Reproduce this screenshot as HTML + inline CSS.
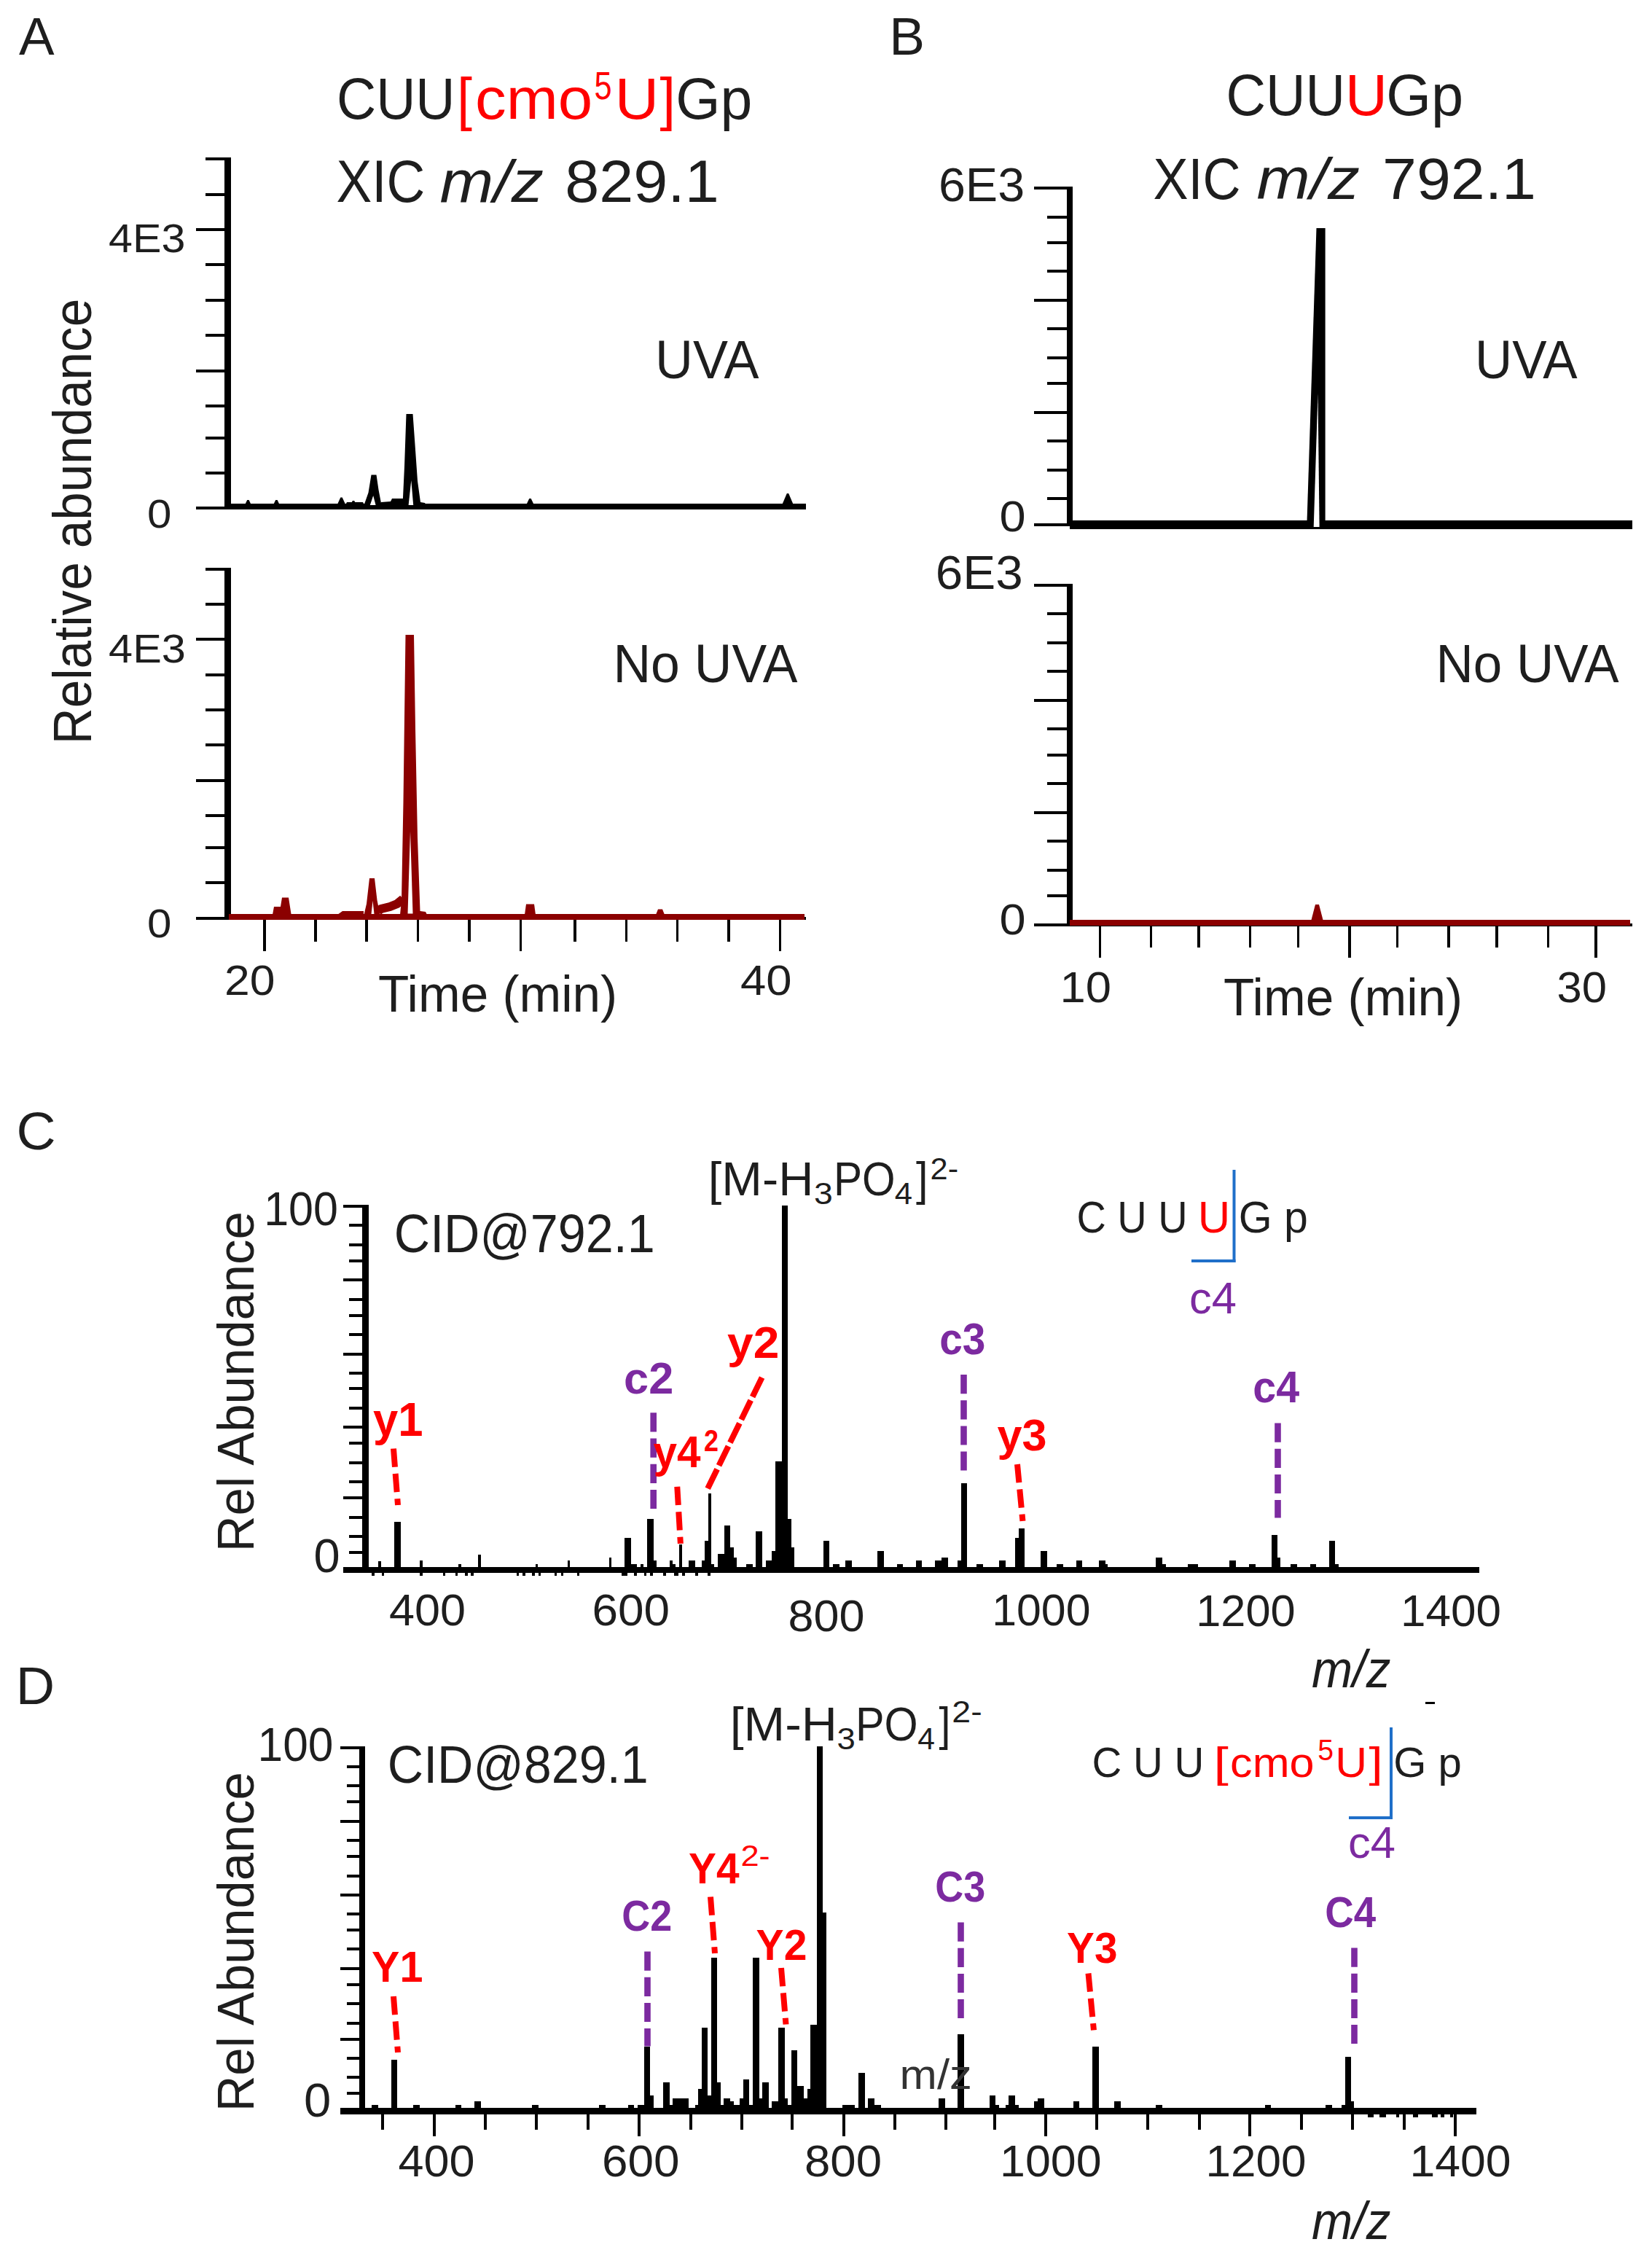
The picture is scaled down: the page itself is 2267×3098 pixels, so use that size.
<!DOCTYPE html>
<html lang="en">
<head>
<meta charset="utf-8">
<title>Figure</title>
<style>
html,body{margin:0;padding:0;background:#fff;}
svg{display:block;}
text{white-space:pre;}
</style>
</head>
<body>
<svg width="2267" height="3098" viewBox="0 0 2267 3098">
<rect width="2267" height="3098" fill="#fff"/>
<g shape-rendering="crispEdges"><rect x="308.2" y="216.4" width="8.5" height="482.6" fill="#000"/>
<rect x="281.7" y="216.4" width="28.3" height="4.0" fill="#000"/>
<rect x="281.7" y="264.8" width="28.3" height="4.0" fill="#000"/>
<rect x="268.6" y="313.1" width="41.4" height="4.0" fill="#000"/>
<rect x="281.7" y="361.4" width="28.3" height="4.0" fill="#000"/>
<rect x="281.7" y="409.8" width="28.3" height="4.0" fill="#000"/>
<rect x="281.7" y="458.1" width="28.3" height="4.0" fill="#000"/>
<rect x="268.6" y="506.5" width="41.4" height="4.0" fill="#000"/>
<rect x="281.7" y="554.8" width="28.3" height="4.0" fill="#000"/>
<rect x="281.7" y="598.5" width="28.3" height="4.0" fill="#000"/>
<rect x="281.7" y="646.9" width="28.3" height="4.0" fill="#000"/>
<rect x="268.6" y="695.2" width="41.4" height="4.0" fill="#000"/>
<rect x="311.0" y="691.0" width="795.0" height="8.0" fill="#000"/>
<rect x="308.2" y="778.7" width="8.5" height="482.8" fill="#000"/>
<rect x="281.7" y="778.7" width="28.3" height="4.0" fill="#000"/>
<rect x="281.7" y="827.0" width="28.3" height="4.0" fill="#000"/>
<rect x="268.6" y="875.3" width="41.4" height="4.0" fill="#000"/>
<rect x="281.7" y="923.7" width="28.3" height="4.0" fill="#000"/>
<rect x="281.7" y="972.0" width="28.3" height="4.0" fill="#000"/>
<rect x="281.7" y="1020.4" width="28.3" height="4.0" fill="#000"/>
<rect x="268.6" y="1068.7" width="41.4" height="4.0" fill="#000"/>
<rect x="281.7" y="1117.0" width="28.3" height="4.0" fill="#000"/>
<rect x="281.7" y="1160.8" width="28.3" height="4.0" fill="#000"/>
<rect x="281.7" y="1209.1" width="28.3" height="4.0" fill="#000"/>
<rect x="268.6" y="1257.5" width="41.4" height="4.0" fill="#000"/>
<rect x="311.0" y="1257.5" width="795.0" height="4.0" fill="#000"/>
<rect x="361.3" y="1260.0" width="3.4" height="45.0" fill="#000"/>
<rect x="431.3" y="1260.0" width="3.4" height="32.0" fill="#000"/>
<rect x="501.3" y="1260.0" width="3.4" height="32.0" fill="#000"/>
<rect x="571.6" y="1260.0" width="3.4" height="32.0" fill="#000"/>
<rect x="642.3" y="1260.0" width="3.4" height="32.0" fill="#000"/>
<rect x="712.8" y="1260.0" width="3.4" height="45.0" fill="#000"/>
<rect x="787.3" y="1260.0" width="3.4" height="32.0" fill="#000"/>
<rect x="857.7" y="1260.0" width="3.4" height="32.0" fill="#000"/>
<rect x="927.7" y="1260.0" width="3.4" height="32.0" fill="#000"/>
<rect x="998.2" y="1260.0" width="3.4" height="32.0" fill="#000"/>
<rect x="1068.7" y="1260.0" width="3.4" height="45.0" fill="#000"/>
<rect x="314.0" y="1253.5" width="789.5" height="8.0" fill="#8b0000"/>
<rect x="1463.6" y="256.0" width="8.5" height="466.0" fill="#000"/>
<rect x="1419.4" y="256.0" width="45.6" height="4.0" fill="#000"/>
<rect x="1437.1" y="295.6" width="27.9" height="4.0" fill="#000"/>
<rect x="1437.1" y="330.8" width="27.9" height="4.0" fill="#000"/>
<rect x="1437.1" y="370.4" width="27.9" height="4.0" fill="#000"/>
<rect x="1419.4" y="410.0" width="45.6" height="4.0" fill="#000"/>
<rect x="1437.1" y="449.3" width="27.9" height="4.0" fill="#000"/>
<rect x="1437.1" y="488.9" width="27.9" height="4.0" fill="#000"/>
<rect x="1437.1" y="524.1" width="27.9" height="4.0" fill="#000"/>
<rect x="1419.4" y="563.7" width="45.6" height="4.0" fill="#000"/>
<rect x="1437.1" y="603.3" width="27.9" height="4.0" fill="#000"/>
<rect x="1437.1" y="642.7" width="27.9" height="4.0" fill="#000"/>
<rect x="1437.1" y="682.3" width="27.9" height="4.0" fill="#000"/>
<rect x="1419.4" y="717.5" width="45.6" height="4.0" fill="#000"/>
<rect x="1468.0" y="713.8" width="772.0" height="12.0" fill="#000"/>
<rect x="1463.6" y="800.6" width="8.5" height="469.9" fill="#000"/>
<rect x="1419.4" y="800.6" width="45.6" height="4.0" fill="#000"/>
<rect x="1437.1" y="840.2" width="27.9" height="4.0" fill="#000"/>
<rect x="1437.1" y="879.7" width="27.9" height="4.0" fill="#000"/>
<rect x="1437.1" y="919.1" width="27.9" height="4.0" fill="#000"/>
<rect x="1419.4" y="958.7" width="45.6" height="4.0" fill="#000"/>
<rect x="1437.1" y="998.3" width="27.9" height="4.0" fill="#000"/>
<rect x="1437.1" y="1033.5" width="27.9" height="4.0" fill="#000"/>
<rect x="1437.1" y="1073.1" width="27.9" height="4.0" fill="#000"/>
<rect x="1419.4" y="1112.5" width="45.6" height="4.0" fill="#000"/>
<rect x="1437.1" y="1152.1" width="27.9" height="4.0" fill="#000"/>
<rect x="1437.1" y="1191.7" width="27.9" height="4.0" fill="#000"/>
<rect x="1437.1" y="1226.9" width="27.9" height="4.0" fill="#000"/>
<rect x="1419.4" y="1266.5" width="45.6" height="4.0" fill="#000"/>
<rect x="1466.0" y="1266.5" width="774.0" height="4.0" fill="#000"/>
<rect x="1507.9" y="1268.0" width="3.3" height="46.0" fill="#000"/>
<rect x="1577.9" y="1268.0" width="3.3" height="32.0" fill="#000"/>
<rect x="1643.4" y="1268.0" width="3.3" height="32.0" fill="#000"/>
<rect x="1713.9" y="1268.0" width="3.3" height="32.0" fill="#000"/>
<rect x="1779.9" y="1268.0" width="3.3" height="32.0" fill="#000"/>
<rect x="1850.4" y="1268.0" width="3.3" height="46.0" fill="#000"/>
<rect x="1915.9" y="1268.0" width="3.3" height="32.0" fill="#000"/>
<rect x="1986.4" y="1268.0" width="3.3" height="32.0" fill="#000"/>
<rect x="2052.4" y="1268.0" width="3.3" height="32.0" fill="#000"/>
<rect x="2122.9" y="1268.0" width="3.3" height="32.0" fill="#000"/>
<rect x="2188.4" y="1268.0" width="3.3" height="46.0" fill="#000"/>
<rect x="1468.0" y="1262.0" width="769.0" height="8.0" fill="#8b0000"/>
<rect x="497.1" y="1653.2" width="8.8" height="504.8" fill="#000"/>
<rect x="470.9" y="1653.2" width="28.1" height="4.0" fill="#000"/>
<rect x="479.4" y="1679.4" width="19.6" height="4.0" fill="#000"/>
<rect x="479.4" y="1705.9" width="19.6" height="4.0" fill="#000"/>
<rect x="479.4" y="1727.8" width="19.6" height="4.0" fill="#000"/>
<rect x="470.9" y="1754.3" width="28.1" height="4.0" fill="#000"/>
<rect x="479.4" y="1780.7" width="19.6" height="4.0" fill="#000"/>
<rect x="479.4" y="1802.6" width="19.6" height="4.0" fill="#000"/>
<rect x="479.4" y="1829.1" width="19.6" height="4.0" fill="#000"/>
<rect x="470.9" y="1855.5" width="28.1" height="4.0" fill="#000"/>
<rect x="479.4" y="1881.6" width="19.6" height="4.0" fill="#000"/>
<rect x="479.4" y="1903.4" width="19.6" height="4.0" fill="#000"/>
<rect x="479.4" y="1929.9" width="19.6" height="4.0" fill="#000"/>
<rect x="470.9" y="1956.4" width="28.1" height="4.0" fill="#000"/>
<rect x="479.4" y="1978.2" width="19.6" height="4.0" fill="#000"/>
<rect x="479.4" y="2004.7" width="19.6" height="4.0" fill="#000"/>
<rect x="479.4" y="2031.2" width="19.6" height="4.0" fill="#000"/>
<rect x="470.9" y="2053.1" width="28.1" height="4.0" fill="#000"/>
<rect x="479.4" y="2079.5" width="19.6" height="4.0" fill="#000"/>
<rect x="479.4" y="2105.8" width="19.6" height="4.0" fill="#000"/>
<rect x="479.4" y="2127.9" width="19.6" height="4.0" fill="#000"/>
<rect x="470.9" y="2154.1" width="28.1" height="4.0" fill="#000"/>
<rect x="470.9" y="2150.0" width="1559.1" height="8.2" fill="#000"/>
<rect x="541.4" y="2087.8" width="8.1" height="70.4" fill="#000"/>
<rect x="519.2" y="2141.7" width="3.6" height="16.5" fill="#000"/>
<rect x="576.4" y="2141.0" width="3.6" height="17.2" fill="#000"/>
<rect x="629.1" y="2145.5" width="3.6" height="12.7" fill="#000"/>
<rect x="655.6" y="2132.8" width="4.0" height="25.4" fill="#000"/>
<rect x="734.6" y="2145.5" width="3.6" height="12.7" fill="#000"/>
<rect x="778.6" y="2141.0" width="3.6" height="17.2" fill="#000"/>
<rect x="835.8" y="2136.6" width="3.6" height="21.6" fill="#000"/>
<rect x="857.4" y="2110.0" width="8.6" height="48.2" fill="#000"/>
<rect x="866.0" y="2145.5" width="8.0" height="12.7" fill="#000"/>
<rect x="878.9" y="2145.5" width="3.8" height="12.7" fill="#000"/>
<rect x="887.8" y="2083.7" width="8.9" height="74.5" fill="#000"/>
<rect x="896.7" y="2141.2" width="4.3" height="17.0" fill="#000"/>
<rect x="919.0" y="2141.2" width="4.4" height="17.0" fill="#000"/>
<rect x="923.4" y="2145.5" width="3.6" height="12.7" fill="#000"/>
<rect x="931.8" y="2119.3" width="4.3" height="38.9" fill="#000"/>
<rect x="945.0" y="2141.2" width="8.9" height="17.0" fill="#000"/>
<rect x="962.8" y="2141.0" width="4.6" height="17.2" fill="#000"/>
<rect x="967.4" y="2114.2" width="4.3" height="44.0" fill="#000"/>
<rect x="971.7" y="2048.9" width="3.8" height="109.3" fill="#000"/>
<rect x="975.5" y="2145.5" width="4.3" height="12.7" fill="#000"/>
<rect x="984.9" y="2132.0" width="8.9" height="26.2" fill="#000"/>
<rect x="993.8" y="2092.6" width="8.4" height="65.6" fill="#000"/>
<rect x="1002.2" y="2123.1" width="4.3" height="35.1" fill="#000"/>
<rect x="1006.5" y="2136.6" width="4.1" height="21.6" fill="#000"/>
<rect x="1024.3" y="2145.5" width="8.4" height="12.7" fill="#000"/>
<rect x="1037.3" y="2101.0" width="8.6" height="57.2" fill="#000"/>
<rect x="1050.5" y="2141.2" width="8.9" height="17.0" fill="#000"/>
<rect x="1059.4" y="2127.7" width="4.3" height="30.5" fill="#000"/>
<rect x="1063.7" y="2005.0" width="9.3" height="153.2" fill="#000"/>
<rect x="1072.5" y="1654.0" width="8.5" height="504.2" fill="#000"/>
<rect x="1081.0" y="2083.7" width="4.6" height="74.5" fill="#000"/>
<rect x="1085.6" y="2123.1" width="4.3" height="35.1" fill="#000"/>
<rect x="1129.8" y="2114.2" width="8.4" height="44.0" fill="#000"/>
<rect x="1142.8" y="2145.5" width="8.7" height="12.7" fill="#000"/>
<rect x="1160.4" y="2141.2" width="8.4" height="17.0" fill="#000"/>
<rect x="1204.3" y="2127.7" width="8.4" height="30.5" fill="#000"/>
<rect x="1230.5" y="2145.5" width="8.7" height="12.7" fill="#000"/>
<rect x="1257.0" y="2141.2" width="8.4" height="17.0" fill="#000"/>
<rect x="1283.2" y="2141.2" width="8.8" height="17.0" fill="#000"/>
<rect x="1292.0" y="2136.6" width="8.8" height="21.6" fill="#000"/>
<rect x="1314.3" y="2141.2" width="4.3" height="17.0" fill="#000"/>
<rect x="1318.6" y="2035.0" width="8.4" height="123.2" fill="#000"/>
<rect x="1340.3" y="2145.5" width="8.9" height="12.7" fill="#000"/>
<rect x="1371.0" y="2141.2" width="8.9" height="17.0" fill="#000"/>
<rect x="1393.1" y="2109.9" width="4.4" height="48.3" fill="#000"/>
<rect x="1397.5" y="2096.7" width="8.9" height="61.5" fill="#000"/>
<rect x="1428.2" y="2127.7" width="8.7" height="30.5" fill="#000"/>
<rect x="1450.4" y="2145.5" width="8.8" height="12.7" fill="#000"/>
<rect x="1476.5" y="2141.2" width="8.9" height="17.0" fill="#000"/>
<rect x="1507.6" y="2141.2" width="8.9" height="17.0" fill="#000"/>
<rect x="1516.5" y="2145.5" width="3.8" height="12.7" fill="#000"/>
<rect x="1586.4" y="2136.6" width="8.9" height="21.6" fill="#000"/>
<rect x="1595.3" y="2145.5" width="4.3" height="12.7" fill="#000"/>
<rect x="1630.4" y="2145.5" width="13.2" height="12.7" fill="#000"/>
<rect x="1687.3" y="2141.2" width="9.1" height="17.0" fill="#000"/>
<rect x="1714.2" y="2145.5" width="8.3" height="12.7" fill="#000"/>
<rect x="1744.7" y="2105.6" width="8.4" height="52.6" fill="#000"/>
<rect x="1753.1" y="2136.6" width="4.3" height="21.6" fill="#000"/>
<rect x="1771.4" y="2145.5" width="8.1" height="12.7" fill="#000"/>
<rect x="1797.6" y="2145.5" width="8.6" height="12.7" fill="#000"/>
<rect x="1824.0" y="2114.2" width="8.4" height="44.0" fill="#000"/>
<rect x="1832.4" y="2145.5" width="4.3" height="12.7" fill="#000"/>
<rect x="510.3" y="2157.0" width="3.6" height="5.0" fill="#000"/>
<rect x="523.8" y="2157.0" width="3.6" height="5.0" fill="#000"/>
<rect x="576.4" y="2157.0" width="3.6" height="5.0" fill="#000"/>
<rect x="607.5" y="2157.0" width="3.6" height="5.0" fill="#000"/>
<rect x="624.7" y="2157.0" width="3.6" height="5.0" fill="#000"/>
<rect x="638.0" y="2157.0" width="3.6" height="5.0" fill="#000"/>
<rect x="646.4" y="2157.0" width="3.6" height="5.0" fill="#000"/>
<rect x="708.6" y="2157.0" width="3.6" height="5.0" fill="#000"/>
<rect x="717.0" y="2157.0" width="3.6" height="5.0" fill="#000"/>
<rect x="730.3" y="2157.0" width="3.6" height="5.0" fill="#000"/>
<rect x="738.7" y="2157.0" width="3.6" height="5.0" fill="#000"/>
<rect x="760.8" y="2157.0" width="3.6" height="5.0" fill="#000"/>
<rect x="769.7" y="2157.0" width="3.6" height="5.0" fill="#000"/>
<rect x="791.8" y="2157.0" width="3.6" height="5.0" fill="#000"/>
<rect x="870.7" y="2157.0" width="3.6" height="5.0" fill="#000"/>
<rect x="883.5" y="2157.0" width="3.6" height="5.0" fill="#000"/>
<rect x="892.4" y="2157.0" width="3.6" height="5.0" fill="#000"/>
<rect x="910.2" y="2157.0" width="3.6" height="5.0" fill="#000"/>
<rect x="936.3" y="2157.0" width="3.6" height="5.0" fill="#000"/>
<rect x="954.1" y="2157.0" width="3.6" height="5.0" fill="#000"/>
<rect x="971.2" y="2157.0" width="3.6" height="5.0" fill="#000"/>
<rect x="852.6" y="2157.0" width="8.0" height="5.0" fill="#000"/>
<rect x="870.1" y="2157.0" width="3.6" height="5.0" fill="#000"/>
<rect x="925.0" y="2157.0" width="6.0" height="5.0" fill="#000"/>
<rect x="1956.0" y="2334.5" width="12.5" height="3.0" fill="#000"/>
<rect x="492.8" y="2395.7" width="8.5" height="505.1" fill="#000"/>
<rect x="466.8" y="2395.7" width="28.2" height="4.0" fill="#000"/>
<rect x="475.5" y="2421.9" width="19.5" height="4.0" fill="#000"/>
<rect x="475.5" y="2448.4" width="19.5" height="4.0" fill="#000"/>
<rect x="475.5" y="2470.3" width="19.5" height="4.0" fill="#000"/>
<rect x="466.8" y="2496.8" width="28.2" height="4.0" fill="#000"/>
<rect x="475.5" y="2523.2" width="19.5" height="4.0" fill="#000"/>
<rect x="475.5" y="2545.1" width="19.5" height="4.0" fill="#000"/>
<rect x="475.5" y="2571.6" width="19.5" height="4.0" fill="#000"/>
<rect x="466.8" y="2598.0" width="28.2" height="4.0" fill="#000"/>
<rect x="475.5" y="2624.1" width="19.5" height="4.0" fill="#000"/>
<rect x="475.5" y="2645.9" width="19.5" height="4.0" fill="#000"/>
<rect x="475.5" y="2672.4" width="19.5" height="4.0" fill="#000"/>
<rect x="466.8" y="2698.9" width="28.2" height="4.0" fill="#000"/>
<rect x="475.5" y="2720.7" width="19.5" height="4.0" fill="#000"/>
<rect x="475.5" y="2747.2" width="19.5" height="4.0" fill="#000"/>
<rect x="475.5" y="2773.7" width="19.5" height="4.0" fill="#000"/>
<rect x="466.8" y="2795.6" width="28.2" height="4.0" fill="#000"/>
<rect x="475.5" y="2822.0" width="19.5" height="4.0" fill="#000"/>
<rect x="475.5" y="2848.3" width="19.5" height="4.0" fill="#000"/>
<rect x="475.5" y="2870.4" width="19.5" height="4.0" fill="#000"/>
<rect x="466.8" y="2896.6" width="28.2" height="4.0" fill="#000"/>
<rect x="466.8" y="2892.2" width="1558.8" height="8.4" fill="#000"/>
<rect x="523.3" y="2899.0" width="4.0" height="23.2" fill="#000"/>
<rect x="594.0" y="2899.0" width="4.0" height="31.6" fill="#000"/>
<rect x="663.9" y="2899.0" width="4.0" height="23.2" fill="#000"/>
<rect x="734.4" y="2899.0" width="4.0" height="23.2" fill="#000"/>
<rect x="804.6" y="2899.0" width="4.0" height="23.2" fill="#000"/>
<rect x="875.0" y="2899.0" width="4.0" height="31.6" fill="#000"/>
<rect x="945.5" y="2899.0" width="4.0" height="23.2" fill="#000"/>
<rect x="1015.5" y="2899.0" width="4.0" height="23.2" fill="#000"/>
<rect x="1085.4" y="2899.0" width="4.0" height="23.2" fill="#000"/>
<rect x="1155.8" y="2899.0" width="4.0" height="31.6" fill="#000"/>
<rect x="1226.0" y="2899.0" width="4.0" height="23.2" fill="#000"/>
<rect x="1296.3" y="2899.0" width="4.0" height="23.2" fill="#000"/>
<rect x="1362.7" y="2899.0" width="4.0" height="23.2" fill="#000"/>
<rect x="1433.1" y="2899.0" width="4.0" height="31.6" fill="#000"/>
<rect x="1503.0" y="2899.0" width="4.0" height="23.2" fill="#000"/>
<rect x="1572.9" y="2899.0" width="4.0" height="23.2" fill="#000"/>
<rect x="1643.6" y="2899.0" width="4.0" height="23.2" fill="#000"/>
<rect x="1713.4" y="2899.0" width="4.0" height="31.6" fill="#000"/>
<rect x="1783.9" y="2899.0" width="4.0" height="23.2" fill="#000"/>
<rect x="1854.0" y="2899.0" width="4.0" height="23.2" fill="#000"/>
<rect x="1924.5" y="2899.0" width="4.0" height="23.2" fill="#000"/>
<rect x="1994.9" y="2899.0" width="4.0" height="31.6" fill="#000"/>
<rect x="536.8" y="2826.1" width="8.4" height="74.5" fill="#000"/>
<rect x="510.3" y="2887.9" width="8.7" height="12.7" fill="#000"/>
<rect x="567.3" y="2887.9" width="8.9" height="12.7" fill="#000"/>
<rect x="624.8" y="2887.9" width="8.6" height="12.7" fill="#000"/>
<rect x="651.2" y="2883.3" width="8.4" height="17.3" fill="#000"/>
<rect x="730.3" y="2887.9" width="8.6" height="12.7" fill="#000"/>
<rect x="822.3" y="2887.9" width="8.4" height="12.7" fill="#000"/>
<rect x="861.7" y="2887.9" width="8.4" height="12.7" fill="#000"/>
<rect x="875.1" y="2887.9" width="8.9" height="12.7" fill="#000"/>
<rect x="884.0" y="2808.3" width="8.4" height="92.3" fill="#000"/>
<rect x="892.4" y="2874.7" width="4.3" height="25.9" fill="#000"/>
<rect x="910.2" y="2857.4" width="8.6" height="43.2" fill="#000"/>
<rect x="918.8" y="2887.9" width="4.1" height="12.7" fill="#000"/>
<rect x="922.9" y="2879.0" width="22.1" height="21.6" fill="#000"/>
<rect x="953.9" y="2887.9" width="4.3" height="12.7" fill="#000"/>
<rect x="958.2" y="2865.8" width="4.6" height="34.8" fill="#000"/>
<rect x="962.8" y="2782.0" width="8.4" height="118.6" fill="#000"/>
<rect x="971.2" y="2874.7" width="4.3" height="25.9" fill="#000"/>
<rect x="975.5" y="2685.5" width="8.9" height="215.1" fill="#000"/>
<rect x="984.4" y="2857.4" width="4.3" height="43.2" fill="#000"/>
<rect x="988.7" y="2887.9" width="4.6" height="12.7" fill="#000"/>
<rect x="993.3" y="2879.0" width="8.9" height="21.6" fill="#000"/>
<rect x="1002.2" y="2883.3" width="4.3" height="17.3" fill="#000"/>
<rect x="1006.5" y="2887.9" width="8.9" height="12.7" fill="#000"/>
<rect x="1015.4" y="2879.0" width="4.6" height="21.6" fill="#000"/>
<rect x="1020.0" y="2852.8" width="8.4" height="47.8" fill="#000"/>
<rect x="1028.4" y="2887.9" width="4.3" height="12.7" fill="#000"/>
<rect x="1032.7" y="2685.5" width="8.9" height="215.1" fill="#000"/>
<rect x="1041.6" y="2879.0" width="4.4" height="21.6" fill="#000"/>
<rect x="1046.0" y="2857.4" width="8.8" height="43.2" fill="#000"/>
<rect x="1059.4" y="2883.3" width="8.9" height="17.3" fill="#000"/>
<rect x="1068.3" y="2782.0" width="8.4" height="118.6" fill="#000"/>
<rect x="1076.7" y="2879.0" width="4.3" height="21.6" fill="#000"/>
<rect x="1081.0" y="2887.9" width="4.6" height="12.7" fill="#000"/>
<rect x="1085.6" y="2813.4" width="8.7" height="87.2" fill="#000"/>
<rect x="1094.3" y="2861.7" width="8.9" height="38.9" fill="#000"/>
<rect x="1103.2" y="2879.0" width="4.5" height="21.6" fill="#000"/>
<rect x="1107.7" y="2865.8" width="4.3" height="34.8" fill="#000"/>
<rect x="1112.0" y="2778.0" width="9.0" height="122.6" fill="#000"/>
<rect x="1120.5" y="2396.0" width="8.5" height="504.6" fill="#000"/>
<rect x="1129.0" y="2624.0" width="5.0" height="276.6" fill="#000"/>
<rect x="1156.0" y="2887.9" width="17.3" height="12.7" fill="#000"/>
<rect x="1178.2" y="2843.9" width="8.4" height="56.7" fill="#000"/>
<rect x="1190.9" y="2879.0" width="8.9" height="21.6" fill="#000"/>
<rect x="1199.8" y="2887.9" width="8.9" height="12.7" fill="#000"/>
<rect x="1287.6" y="2879.0" width="8.9" height="21.6" fill="#000"/>
<rect x="1314.3" y="2791.3" width="8.4" height="109.3" fill="#000"/>
<rect x="1358.0" y="2874.7" width="8.4" height="25.9" fill="#000"/>
<rect x="1366.4" y="2887.9" width="4.4" height="12.7" fill="#000"/>
<rect x="1379.9" y="2887.9" width="4.3" height="12.7" fill="#000"/>
<rect x="1384.2" y="2874.7" width="8.9" height="25.9" fill="#000"/>
<rect x="1393.1" y="2887.9" width="4.4" height="12.7" fill="#000"/>
<rect x="1419.3" y="2883.3" width="4.4" height="17.3" fill="#000"/>
<rect x="1423.7" y="2879.0" width="8.9" height="21.6" fill="#000"/>
<rect x="1472.5" y="2883.3" width="8.4" height="17.3" fill="#000"/>
<rect x="1499.2" y="2808.3" width="8.4" height="92.3" fill="#000"/>
<rect x="1529.2" y="2883.3" width="8.8" height="17.3" fill="#000"/>
<rect x="1586.4" y="2887.9" width="8.9" height="12.7" fill="#000"/>
<rect x="1735.8" y="2887.9" width="8.4" height="12.7" fill="#000"/>
<rect x="1819.2" y="2887.9" width="8.8" height="12.7" fill="#000"/>
<rect x="1841.3" y="2887.9" width="4.3" height="12.7" fill="#000"/>
<rect x="1845.6" y="2821.8" width="8.4" height="78.8" fill="#000"/>
<rect x="1854.0" y="2883.3" width="4.3" height="17.3" fill="#000"/>
<rect x="1876.9" y="2899.5" width="7.6" height="5.0" fill="#000"/>
<rect x="1893.4" y="2899.5" width="8.9" height="5.0" fill="#000"/>
<rect x="1916.3" y="2899.5" width="3.8" height="5.0" fill="#000"/>
<rect x="1939.2" y="2899.5" width="7.1" height="5.0" fill="#000"/>
<rect x="1964.6" y="2899.5" width="8.1" height="5.0" fill="#000"/>
<rect x="1977.3" y="2899.5" width="5.1" height="5.0" fill="#000"/>
<rect x="1990.0" y="2899.5" width="3.8" height="5.0" fill="#000"/></g>
<polygon points="335.9,693.0 339.2,686.0 341.6,686.0 344.9,693.0" fill="#000"/>
<polygon points="374.9,693.0 378.2,686.0 380.6,686.0 383.9,693.0" fill="#000"/>
<polygon points="462.5,693.0 467.3,682.5 469.7,682.5 474.5,693.0" fill="#000"/>
<polygon points="481.0,693.0 483.8,687.0 486.2,687.0 489.0,693.0" fill="#000"/>
<polygon points="722.0,693.0 726.3,684.0 728.7,684.0 733.0,693.0" fill="#000"/>
<polygon points="1073.0,693.0 1079.8,677.0 1082.2,677.0 1089.0,693.0" fill="#000"/>
<polygon points="474.0,693.0 476.0,689.0 498.0,689.0 500.0,693.0" fill="#000"/>
<polygon points="499.5,693.0 505.5,676.0 509.5,651.6 516.5,651.6 519.5,672.0 523.5,693.0" fill="#000"/>
<polygon points="507.8,693.0 512.2,680.0 515.6,693.0" fill="#fff"/>
<polygon points="522.0,693.0 523.0,689.0 536.0,688.0 538.0,684.0 555.0,684.0 555.0,693.0" fill="#000"/>
<polygon points="552.5,693.0 555.0,640.0 557.5,568.0 566.5,568.0 569.5,610.0 573.0,660.0 577.0,689.0 583.0,690.0 585.0,693.0" fill="#000"/>
<polygon points="560.6,693.0 564.3,659.0 567.2,693.0" fill="#fff"/>
<polygon points="374.0,1255.0 376.0,1244.0 385.0,1244.0 387.0,1231.5 396.0,1231.5 399.7,1255.0" fill="#8b0000"/>
<polygon points="463.0,1255.0 470.0,1250.0 499.0,1250.0 499.0,1255.0" fill="#8b0000"/>
<polygon points="499.5,1255.0 503.0,1240.0 507.0,1205.0 514.0,1205.0 517.5,1235.0 521.5,1255.0" fill="#8b0000"/>
<polygon points="509.5,1254.0 511.5,1236.0 513.5,1254.0" fill="#fff"/>
<polyline points="519.0,1250.0 523.0,1247.0 535.0,1244.0 545.0,1240.0 553.0,1233.5" fill="none" stroke="#8b0000" stroke-width="12" stroke-linejoin="miter" stroke-miterlimit="10"/>
<polygon points="549.0,1255.0 551.0,1234.0 553.5,1100.0 556.5,871.0 568.0,871.0 570.0,1000.0 573.0,1150.0 576.5,1250.0 584.0,1251.0 586.0,1255.0" fill="#8b0000"/>
<polygon points="559.5,1253.5 563.0,1140.0 566.5,1253.5" fill="#fff"/>
<polygon points="720.0,1255.0 722.0,1240.4 733.0,1240.4 735.0,1255.0" fill="#8b0000"/>
<polygon points="900.0,1255.0 903.0,1247.5 909.0,1247.5 912.0,1255.0" fill="#8b0000"/>
<polygon points="1793.5,716 1806.5,313 1818.6,313 1818.6,716" fill="#000"/>
<polygon points="1802.7,723 1810.6,723 1808.5,540" fill="#fff"/>
<polygon points="1799,1264 1805,1241 1810,1241 1816,1264" fill="#8b0000"/>
<line x1="1693.5" y1="1605.0" x2="1693.5" y2="1732.0" stroke="#1f6fc9" stroke-width="4" stroke-linecap="butt"/>
<line x1="1635.0" y1="1730.0" x2="1695.5" y2="1730.0" stroke="#1f6fc9" stroke-width="4" stroke-linecap="butt"/>
<line x1="540.0" y1="1987.5" x2="546.0" y2="2065.0" stroke="#ff0000" stroke-width="8" stroke-dasharray="25.3 9.2 25.3 9.2 9.2 9.2" stroke-linecap="butt"/>
<line x1="896.7" y1="1938.3" x2="896.7" y2="2070.1" stroke="#7c2aa0" stroke-width="8.6" stroke-dasharray="26.2 9" stroke-linecap="butt"/>
<line x1="929.3" y1="2039.8" x2="933.9" y2="2118.5" stroke="#ff0000" stroke-width="8" stroke-dasharray="25.3 9.2 25.3 9.2 9.2 9.2" stroke-linecap="butt"/>
<line x1="1045.6" y1="1889.9" x2="971.1" y2="2042.3" stroke="#ff0000" stroke-width="8" stroke-dasharray="29.5 5.5" stroke-linecap="butt"/>
<line x1="1322.5" y1="1886.0" x2="1322.5" y2="2017.5" stroke="#7c2aa0" stroke-width="8.6" stroke-dasharray="26.2 9" stroke-linecap="butt"/>
<line x1="1396.0" y1="2009.0" x2="1403.5" y2="2087.5" stroke="#ff0000" stroke-width="8" stroke-dasharray="25.3 9.2 25.3 9.2 9.2 9.2" stroke-linecap="butt"/>
<line x1="1753.5" y1="1952.5" x2="1753.5" y2="2082.5" stroke="#7c2aa0" stroke-width="8.6" stroke-dasharray="26.2 9" stroke-linecap="butt"/>
<line x1="1909.0" y1="2370.0" x2="1909.0" y2="2496.0" stroke="#1f6fc9" stroke-width="4" stroke-linecap="butt"/>
<line x1="1851.0" y1="2494.0" x2="1911.0" y2="2494.0" stroke="#1f6fc9" stroke-width="4" stroke-linecap="butt"/>
<line x1="540.0" y1="2739.0" x2="546.0" y2="2816.0" stroke="#ff0000" stroke-width="8" stroke-dasharray="25.3 9.2 25.3 9.2 9.2 9.2" stroke-linecap="butt"/>
<line x1="888.5" y1="2677.5" x2="888.5" y2="2807.5" stroke="#7c2aa0" stroke-width="8.6" stroke-dasharray="26.2 9" stroke-linecap="butt"/>
<line x1="975.0" y1="2602.5" x2="981.0" y2="2680.0" stroke="#ff0000" stroke-width="8" stroke-dasharray="25.3 9.2 25.3 9.2 9.2 9.2" stroke-linecap="butt"/>
<line x1="1072.0" y1="2700.0" x2="1078.5" y2="2777.5" stroke="#ff0000" stroke-width="8" stroke-dasharray="25.3 9.2 25.3 9.2 9.2 9.2" stroke-linecap="butt"/>
<line x1="1318.5" y1="2637.5" x2="1318.5" y2="2769.0" stroke="#7c2aa0" stroke-width="8.6" stroke-dasharray="26.2 9" stroke-linecap="butt"/>
<line x1="1493.5" y1="2707.5" x2="1501.0" y2="2786.0" stroke="#ff0000" stroke-width="8" stroke-dasharray="25.3 9.2 25.3 9.2 9.2 9.2" stroke-linecap="butt"/>
<line x1="1858.5" y1="2672.5" x2="1858.5" y2="2804.0" stroke="#7c2aa0" stroke-width="8.6" stroke-dasharray="26.2 9" stroke-linecap="butt"/>
<text x="26.0" y="75.0" textLength="48.6" lengthAdjust="spacingAndGlyphs" font-family="'Liberation Sans', sans-serif" font-size="73.0" fill="#1e1e1e">A</text>
<text x="1220.3" y="75.0" textLength="48.8" lengthAdjust="spacingAndGlyphs" font-family="'Liberation Sans', sans-serif" font-size="73.0" fill="#1e1e1e">B</text>
<text x="22.5" y="1576.5" textLength="54.1" lengthAdjust="spacingAndGlyphs" font-family="'Liberation Sans', sans-serif" font-size="72.0" fill="#1e1e1e">C</text>
<text x="21.7" y="2337.5" textLength="53.3" lengthAdjust="spacingAndGlyphs" font-family="'Liberation Sans', sans-serif" font-size="72.0" fill="#1e1e1e">D</text>
<text x="462.0" y="162.5" textLength="162.4" lengthAdjust="spacingAndGlyphs" font-family="'Liberation Sans', sans-serif" font-size="80.5" fill="#1e1e1e">CUU</text>
<text x="627.3" y="162.5" textLength="20.7" lengthAdjust="spacingAndGlyphs" font-family="'Liberation Sans', sans-serif" font-size="80.5" fill="#ff0000">[</text>
<text x="652.0" y="162.5" textLength="161.1" lengthAdjust="spacingAndGlyphs" font-family="'Liberation Sans', sans-serif" font-size="80.5" fill="#ff0000">cmo</text>
<text x="815.6" y="135.5" textLength="24.1" lengthAdjust="spacingAndGlyphs" font-family="'Liberation Sans', sans-serif" font-size="53.0" fill="#ff0000">5</text>
<text x="843.8" y="162.5" textLength="60.3" lengthAdjust="spacingAndGlyphs" font-family="'Liberation Sans', sans-serif" font-size="80.5" fill="#ff0000">U</text>
<text x="905.4" y="162.5" textLength="21.5" lengthAdjust="spacingAndGlyphs" font-family="'Liberation Sans', sans-serif" font-size="80.5" fill="#ff0000">]</text>
<text x="927.3" y="162.5" textLength="105.1" lengthAdjust="spacingAndGlyphs" font-family="'Liberation Sans', sans-serif" font-size="80.5" fill="#1e1e1e">Gp</text>
<text x="461.4" y="277.0" textLength="121.9" lengthAdjust="spacingAndGlyphs" font-family="'Liberation Sans', sans-serif" font-size="81.0" fill="#1e1e1e">XIC</text>
<text x="603.6" y="277.0" textLength="142.4" lengthAdjust="spacingAndGlyphs" font-family="'Liberation Sans', sans-serif" font-size="81.0" fill="#1e1e1e" font-style="italic">m/z</text>
<text x="775.2" y="277.0" textLength="211.7" lengthAdjust="spacingAndGlyphs" font-family="'Liberation Sans', sans-serif" font-size="81.0" fill="#1e1e1e">829.1</text>
<text x="149.1" y="346.0" textLength="105.3" lengthAdjust="spacingAndGlyphs" font-family="'Liberation Sans', sans-serif" font-size="55.0" fill="#1e1e1e">4E3</text>
<text x="202.1" y="723.5" textLength="33.4" lengthAdjust="spacingAndGlyphs" font-family="'Liberation Sans', sans-serif" font-size="56.0" fill="#1e1e1e">0</text>
<text x="899.0" y="518.5" textLength="142.6" lengthAdjust="spacingAndGlyphs" font-family="'Liberation Sans', sans-serif" font-size="74.0" fill="#1e1e1e">UVA</text>
<text x="149.1" y="909.0" textLength="105.8" lengthAdjust="spacingAndGlyphs" font-family="'Liberation Sans', sans-serif" font-size="56.0" fill="#1e1e1e">4E3</text>
<text x="202.1" y="1285.5" textLength="33.4" lengthAdjust="spacingAndGlyphs" font-family="'Liberation Sans', sans-serif" font-size="56.0" fill="#1e1e1e">0</text>
<text x="308.1" y="1365.0" textLength="69.5" lengthAdjust="spacingAndGlyphs" font-family="'Liberation Sans', sans-serif" font-size="57.0" fill="#1e1e1e">20</text>
<text x="1016.0" y="1365.0" textLength="70.6" lengthAdjust="spacingAndGlyphs" font-family="'Liberation Sans', sans-serif" font-size="57.0" fill="#1e1e1e">40</text>
<text x="518.9" y="1387.5" textLength="328.2" lengthAdjust="spacingAndGlyphs" font-family="'Liberation Sans', sans-serif" font-size="70.0" fill="#1e1e1e">Time (min)</text>
<text x="841.4" y="936.0" textLength="253.2" lengthAdjust="spacingAndGlyphs" font-family="'Liberation Sans', sans-serif" font-size="74.0" fill="#1e1e1e">No UVA</text>
<text transform="translate(124.8,1015.8) rotate(-90)" x="-5.4" y="0" textLength="611.3" lengthAdjust="spacingAndGlyphs" font-family="'Liberation Sans', sans-serif" font-size="74.0" fill="#1e1e1e">Relative abundance</text>
<text x="1682.5" y="157.5" textLength="163.5" lengthAdjust="spacingAndGlyphs" font-family="'Liberation Sans', sans-serif" font-size="80.0" fill="#1e1e1e">CUU</text>
<text x="1846.0" y="157.5" textLength="57.8" lengthAdjust="spacingAndGlyphs" font-family="'Liberation Sans', sans-serif" font-size="80.0" fill="#ff0000">U</text>
<text x="1902.3" y="157.5" textLength="105.9" lengthAdjust="spacingAndGlyphs" font-family="'Liberation Sans', sans-serif" font-size="80.0" fill="#1e1e1e">Gp</text>
<text x="1582.4" y="272.5" textLength="120.1" lengthAdjust="spacingAndGlyphs" font-family="'Liberation Sans', sans-serif" font-size="80.0" fill="#1e1e1e">XIC</text>
<text x="1724.6" y="272.5" textLength="141.4" lengthAdjust="spacingAndGlyphs" font-family="'Liberation Sans', sans-serif" font-size="80.0" fill="#1e1e1e" font-style="italic">m/z</text>
<text x="1897.1" y="272.5" textLength="210.9" lengthAdjust="spacingAndGlyphs" font-family="'Liberation Sans', sans-serif" font-size="80.0" fill="#1e1e1e">792.1</text>
<text x="1287.9" y="276.0" textLength="118.3" lengthAdjust="spacingAndGlyphs" font-family="'Liberation Sans', sans-serif" font-size="65.0" fill="#1e1e1e">6E3</text>
<text x="1371.5" y="728.5" textLength="36.1" lengthAdjust="spacingAndGlyphs" font-family="'Liberation Sans', sans-serif" font-size="60.0" fill="#1e1e1e">0</text>
<text x="2024.1" y="518.5" textLength="140.6" lengthAdjust="spacingAndGlyphs" font-family="'Liberation Sans', sans-serif" font-size="74.0" fill="#1e1e1e">UVA</text>
<text x="1283.8" y="807.5" textLength="119.9" lengthAdjust="spacingAndGlyphs" font-family="'Liberation Sans', sans-serif" font-size="65.0" fill="#1e1e1e">6E3</text>
<text x="1371.5" y="1282.0" textLength="36.1" lengthAdjust="spacingAndGlyphs" font-family="'Liberation Sans', sans-serif" font-size="60.0" fill="#1e1e1e">0</text>
<text x="1454.5" y="1375.0" textLength="70.5" lengthAdjust="spacingAndGlyphs" font-family="'Liberation Sans', sans-serif" font-size="59.0" fill="#1e1e1e">10</text>
<text x="2136.6" y="1375.0" textLength="68.5" lengthAdjust="spacingAndGlyphs" font-family="'Liberation Sans', sans-serif" font-size="59.0" fill="#1e1e1e">30</text>
<text x="1678.9" y="1392.5" textLength="328.2" lengthAdjust="spacingAndGlyphs" font-family="'Liberation Sans', sans-serif" font-size="72.0" fill="#1e1e1e">Time (min)</text>
<text x="1970.5" y="936.0" textLength="251.2" lengthAdjust="spacingAndGlyphs" font-family="'Liberation Sans', sans-serif" font-size="74.0" fill="#1e1e1e">No UVA</text>
<text x="362.2" y="1681.0" textLength="101.8" lengthAdjust="spacingAndGlyphs" font-family="'Liberation Sans', sans-serif" font-size="65.0" fill="#1e1e1e">100</text>
<text x="430.5" y="2157.0" textLength="36.1" lengthAdjust="spacingAndGlyphs" font-family="'Liberation Sans', sans-serif" font-size="64.0" fill="#1e1e1e">0</text>
<text transform="translate(347.5,2124.0) rotate(-90)" x="-5.3" y="0" textLength="467.1" lengthAdjust="spacingAndGlyphs" font-family="'Liberation Sans', sans-serif" font-size="71.0" fill="#1e1e1e">Rel Abundance</text>
<text x="540.8" y="1717.5" textLength="358.0" lengthAdjust="spacingAndGlyphs" font-family="'Liberation Sans', sans-serif" font-size="74.0" fill="#1e1e1e">CID@792.1</text>
<text x="971.8" y="1640.0" textLength="144.6" lengthAdjust="spacingAndGlyphs" font-family="'Liberation Sans', sans-serif" font-size="65.0" fill="#1e1e1e">[M-H</text>
<text x="1117.0" y="1652.0" textLength="25.8" lengthAdjust="spacingAndGlyphs" font-family="'Liberation Sans', sans-serif" font-size="43.0" fill="#1e1e1e">3</text>
<text x="1143.9" y="1640.0" textLength="84.6" lengthAdjust="spacingAndGlyphs" font-family="'Liberation Sans', sans-serif" font-size="65.0" fill="#1e1e1e">PO</text>
<text x="1227.8" y="1652.0" textLength="24.3" lengthAdjust="spacingAndGlyphs" font-family="'Liberation Sans', sans-serif" font-size="43.0" fill="#1e1e1e">4</text>
<text x="1257.0" y="1640.0" textLength="16.5" lengthAdjust="spacingAndGlyphs" font-family="'Liberation Sans', sans-serif" font-size="65.0" fill="#1e1e1e">]</text>
<text x="1276.5" y="1617.5" textLength="38.6" lengthAdjust="spacingAndGlyphs" font-family="'Liberation Sans', sans-serif" font-size="43.0" fill="#1e1e1e">2-</text>
<text x="534.0" y="2230.0" textLength="105.1" lengthAdjust="spacingAndGlyphs" font-family="'Liberation Sans', sans-serif" font-size="62.0" fill="#1e1e1e">400</text>
<text x="812.5" y="2230.0" textLength="106.6" lengthAdjust="spacingAndGlyphs" font-family="'Liberation Sans', sans-serif" font-size="62.0" fill="#1e1e1e">600</text>
<text x="1081.5" y="2237.5" textLength="105.0" lengthAdjust="spacingAndGlyphs" font-family="'Liberation Sans', sans-serif" font-size="62.0" fill="#1e1e1e">800</text>
<text x="1361.2" y="2230.0" textLength="135.3" lengthAdjust="spacingAndGlyphs" font-family="'Liberation Sans', sans-serif" font-size="62.0" fill="#1e1e1e">1000</text>
<text x="1641.2" y="2230.5" textLength="136.4" lengthAdjust="spacingAndGlyphs" font-family="'Liberation Sans', sans-serif" font-size="62.0" fill="#1e1e1e">1200</text>
<text x="1922.1" y="2230.5" textLength="137.9" lengthAdjust="spacingAndGlyphs" font-family="'Liberation Sans', sans-serif" font-size="62.0" fill="#1e1e1e">1400</text>
<text x="1799.9" y="2315.0" textLength="108.6" lengthAdjust="spacingAndGlyphs" font-family="'Liberation Sans', sans-serif" font-size="72.0" fill="#1e1e1e" font-style="italic">m/z</text>
<text x="1477.4" y="1691.0" textLength="152.3" lengthAdjust="spacingAndGlyphs" font-family="'Liberation Sans', sans-serif" font-size="61.0" fill="#1e1e1e">C U U</text>
<text x="1643.7" y="1691.0" textLength="44.4" lengthAdjust="spacingAndGlyphs" font-family="'Liberation Sans', sans-serif" font-size="61.0" fill="#ff0000">U</text>
<text x="1699.7" y="1691.0" textLength="95.2" lengthAdjust="spacingAndGlyphs" font-family="'Liberation Sans', sans-serif" font-size="61.0" fill="#1e1e1e">G p</text>
<text x="1632.1" y="1802.0" textLength="65.0" lengthAdjust="spacingAndGlyphs" font-family="'Liberation Sans', sans-serif" font-size="62.0" fill="#7c2aa0">c4</text>
<text x="512.0" y="1970.0" textLength="68.5" lengthAdjust="spacingAndGlyphs" font-family="'Liberation Sans', sans-serif" font-size="64.0" fill="#ff0000" font-weight="bold">y1</text>
<text x="856.1" y="1911.6" textLength="68.1" lengthAdjust="spacingAndGlyphs" font-family="'Liberation Sans', sans-serif" font-size="61.0" fill="#7c2aa0" font-weight="bold">c2</text>
<text x="896.5" y="2012.5" textLength="65.1" lengthAdjust="spacingAndGlyphs" font-family="'Liberation Sans', sans-serif" font-size="61.0" fill="#ff0000" font-weight="bold">y4</text>
<text x="965.9" y="1990.7" textLength="20.0" lengthAdjust="spacingAndGlyphs" font-family="'Liberation Sans', sans-serif" font-size="42.0" fill="#ff0000" font-weight="bold">2</text>
<text x="998.1" y="1862.9" textLength="71.2" lengthAdjust="spacingAndGlyphs" font-family="'Liberation Sans', sans-serif" font-size="61.0" fill="#ff0000" font-weight="bold">y2</text>
<text x="1289.2" y="1857.5" textLength="63.2" lengthAdjust="spacingAndGlyphs" font-family="'Liberation Sans', sans-serif" font-size="61.0" fill="#7c2aa0" font-weight="bold">c3</text>
<text x="1368.5" y="1990.0" textLength="68.0" lengthAdjust="spacingAndGlyphs" font-family="'Liberation Sans', sans-serif" font-size="62.0" fill="#ff0000" font-weight="bold">y3</text>
<text x="1719.2" y="1924.0" textLength="63.9" lengthAdjust="spacingAndGlyphs" font-family="'Liberation Sans', sans-serif" font-size="61.0" fill="#7c2aa0" font-weight="bold">c4</text>
<text x="353.6" y="2416.0" textLength="103.9" lengthAdjust="spacingAndGlyphs" font-family="'Liberation Sans', sans-serif" font-size="65.0" fill="#1e1e1e">100</text>
<text x="416.9" y="2903.5" textLength="37.3" lengthAdjust="spacingAndGlyphs" font-family="'Liberation Sans', sans-serif" font-size="64.0" fill="#1e1e1e">0</text>
<text transform="translate(347.5,2892.0) rotate(-90)" x="-5.3" y="0" textLength="466.1" lengthAdjust="spacingAndGlyphs" font-family="'Liberation Sans', sans-serif" font-size="71.0" fill="#1e1e1e">Rel Abundance</text>
<text x="531.8" y="2446.0" textLength="358.0" lengthAdjust="spacingAndGlyphs" font-family="'Liberation Sans', sans-serif" font-size="73.0" fill="#1e1e1e">CID@829.1</text>
<text x="1001.7" y="2387.5" textLength="147.3" lengthAdjust="spacingAndGlyphs" font-family="'Liberation Sans', sans-serif" font-size="65.0" fill="#1e1e1e">[M-H</text>
<text x="1148.6" y="2400.0" textLength="25.3" lengthAdjust="spacingAndGlyphs" font-family="'Liberation Sans', sans-serif" font-size="43.0" fill="#1e1e1e">3</text>
<text x="1173.9" y="2387.5" textLength="85.7" lengthAdjust="spacingAndGlyphs" font-family="'Liberation Sans', sans-serif" font-size="65.0" fill="#1e1e1e">PO</text>
<text x="1259.3" y="2400.0" textLength="23.7" lengthAdjust="spacingAndGlyphs" font-family="'Liberation Sans', sans-serif" font-size="43.0" fill="#1e1e1e">4</text>
<text x="1288.5" y="2387.5" textLength="15.9" lengthAdjust="spacingAndGlyphs" font-family="'Liberation Sans', sans-serif" font-size="65.0" fill="#1e1e1e">]</text>
<text x="1306.3" y="2363.0" textLength="41.4" lengthAdjust="spacingAndGlyphs" font-family="'Liberation Sans', sans-serif" font-size="43.0" fill="#1e1e1e">2-</text>
<text x="546.5" y="2985.5" textLength="105.1" lengthAdjust="spacingAndGlyphs" font-family="'Liberation Sans', sans-serif" font-size="62.0" fill="#1e1e1e">400</text>
<text x="826.0" y="2985.5" textLength="106.6" lengthAdjust="spacingAndGlyphs" font-family="'Liberation Sans', sans-serif" font-size="62.0" fill="#1e1e1e">600</text>
<text x="1104.0" y="2985.5" textLength="106.1" lengthAdjust="spacingAndGlyphs" font-family="'Liberation Sans', sans-serif" font-size="62.0" fill="#1e1e1e">800</text>
<text x="1372.1" y="2985.5" textLength="139.5" lengthAdjust="spacingAndGlyphs" font-family="'Liberation Sans', sans-serif" font-size="62.0" fill="#1e1e1e">1000</text>
<text x="1654.6" y="2985.5" textLength="137.9" lengthAdjust="spacingAndGlyphs" font-family="'Liberation Sans', sans-serif" font-size="62.0" fill="#1e1e1e">1200</text>
<text x="1934.6" y="2985.5" textLength="139.0" lengthAdjust="spacingAndGlyphs" font-family="'Liberation Sans', sans-serif" font-size="62.0" fill="#1e1e1e">1400</text>
<text x="1799.9" y="3072.0" textLength="108.6" lengthAdjust="spacingAndGlyphs" font-family="'Liberation Sans', sans-serif" font-size="72.0" fill="#1e1e1e" font-style="italic">m/z</text>
<text x="1234.6" y="2865.5" textLength="99.2" lengthAdjust="spacingAndGlyphs" font-family="'Liberation Sans', sans-serif" font-size="58.0" fill="#333">m/z</text>
<text x="1498.4" y="2437.5" textLength="153.9" lengthAdjust="spacingAndGlyphs" font-family="'Liberation Sans', sans-serif" font-size="58.0" fill="#1e1e1e">C U U</text>
<text x="1665.4" y="2437.5" textLength="20.3" lengthAdjust="spacingAndGlyphs" font-family="'Liberation Sans', sans-serif" font-size="58.0" fill="#ff0000">[</text>
<text x="1688.1" y="2437.5" textLength="115.4" lengthAdjust="spacingAndGlyphs" font-family="'Liberation Sans', sans-serif" font-size="58.0" fill="#ff0000">cmo</text>
<text x="1808.3" y="2415.0" textLength="21.8" lengthAdjust="spacingAndGlyphs" font-family="'Liberation Sans', sans-serif" font-size="40.0" fill="#ff0000">5</text>
<text x="1832.2" y="2437.5" textLength="43.8" lengthAdjust="spacingAndGlyphs" font-family="'Liberation Sans', sans-serif" font-size="58.0" fill="#ff0000">U</text>
<text x="1878.5" y="2437.5" textLength="19.1" lengthAdjust="spacingAndGlyphs" font-family="'Liberation Sans', sans-serif" font-size="58.0" fill="#ff0000">]</text>
<text x="1912.3" y="2437.5" textLength="93.6" lengthAdjust="spacingAndGlyphs" font-family="'Liberation Sans', sans-serif" font-size="58.0" fill="#1e1e1e">G p</text>
<text x="1850.1" y="2549.0" textLength="65.0" lengthAdjust="spacingAndGlyphs" font-family="'Liberation Sans', sans-serif" font-size="62.0" fill="#7c2aa0">c4</text>
<text x="510.1" y="2719.0" textLength="70.3" lengthAdjust="spacingAndGlyphs" font-family="'Liberation Sans', sans-serif" font-size="60.0" fill="#ff0000" font-weight="bold">Y1</text>
<text x="853.3" y="2649.0" textLength="69.0" lengthAdjust="spacingAndGlyphs" font-family="'Liberation Sans', sans-serif" font-size="60.0" fill="#7c2aa0" font-weight="bold">C2</text>
<text x="945.1" y="2584.0" textLength="69.5" lengthAdjust="spacingAndGlyphs" font-family="'Liberation Sans', sans-serif" font-size="60.0" fill="#ff0000" font-weight="bold">Y4</text>
<text x="1016.4" y="2560.0" textLength="40.3" lengthAdjust="spacingAndGlyphs" font-family="'Liberation Sans', sans-serif" font-size="40.0" fill="#ff0000">2-</text>
<text x="1037.6" y="2689.0" textLength="69.8" lengthAdjust="spacingAndGlyphs" font-family="'Liberation Sans', sans-serif" font-size="60.0" fill="#ff0000" font-weight="bold">Y2</text>
<text x="1283.3" y="2609.0" textLength="69.0" lengthAdjust="spacingAndGlyphs" font-family="'Liberation Sans', sans-serif" font-size="60.0" fill="#7c2aa0" font-weight="bold">C3</text>
<text x="1464.1" y="2692.5" textLength="69.3" lengthAdjust="spacingAndGlyphs" font-family="'Liberation Sans', sans-serif" font-size="60.0" fill="#ff0000" font-weight="bold">Y3</text>
<text x="1818.3" y="2644.0" textLength="69.9" lengthAdjust="spacingAndGlyphs" font-family="'Liberation Sans', sans-serif" font-size="60.0" fill="#7c2aa0" font-weight="bold">C4</text>
</svg>
</body>
</html>
